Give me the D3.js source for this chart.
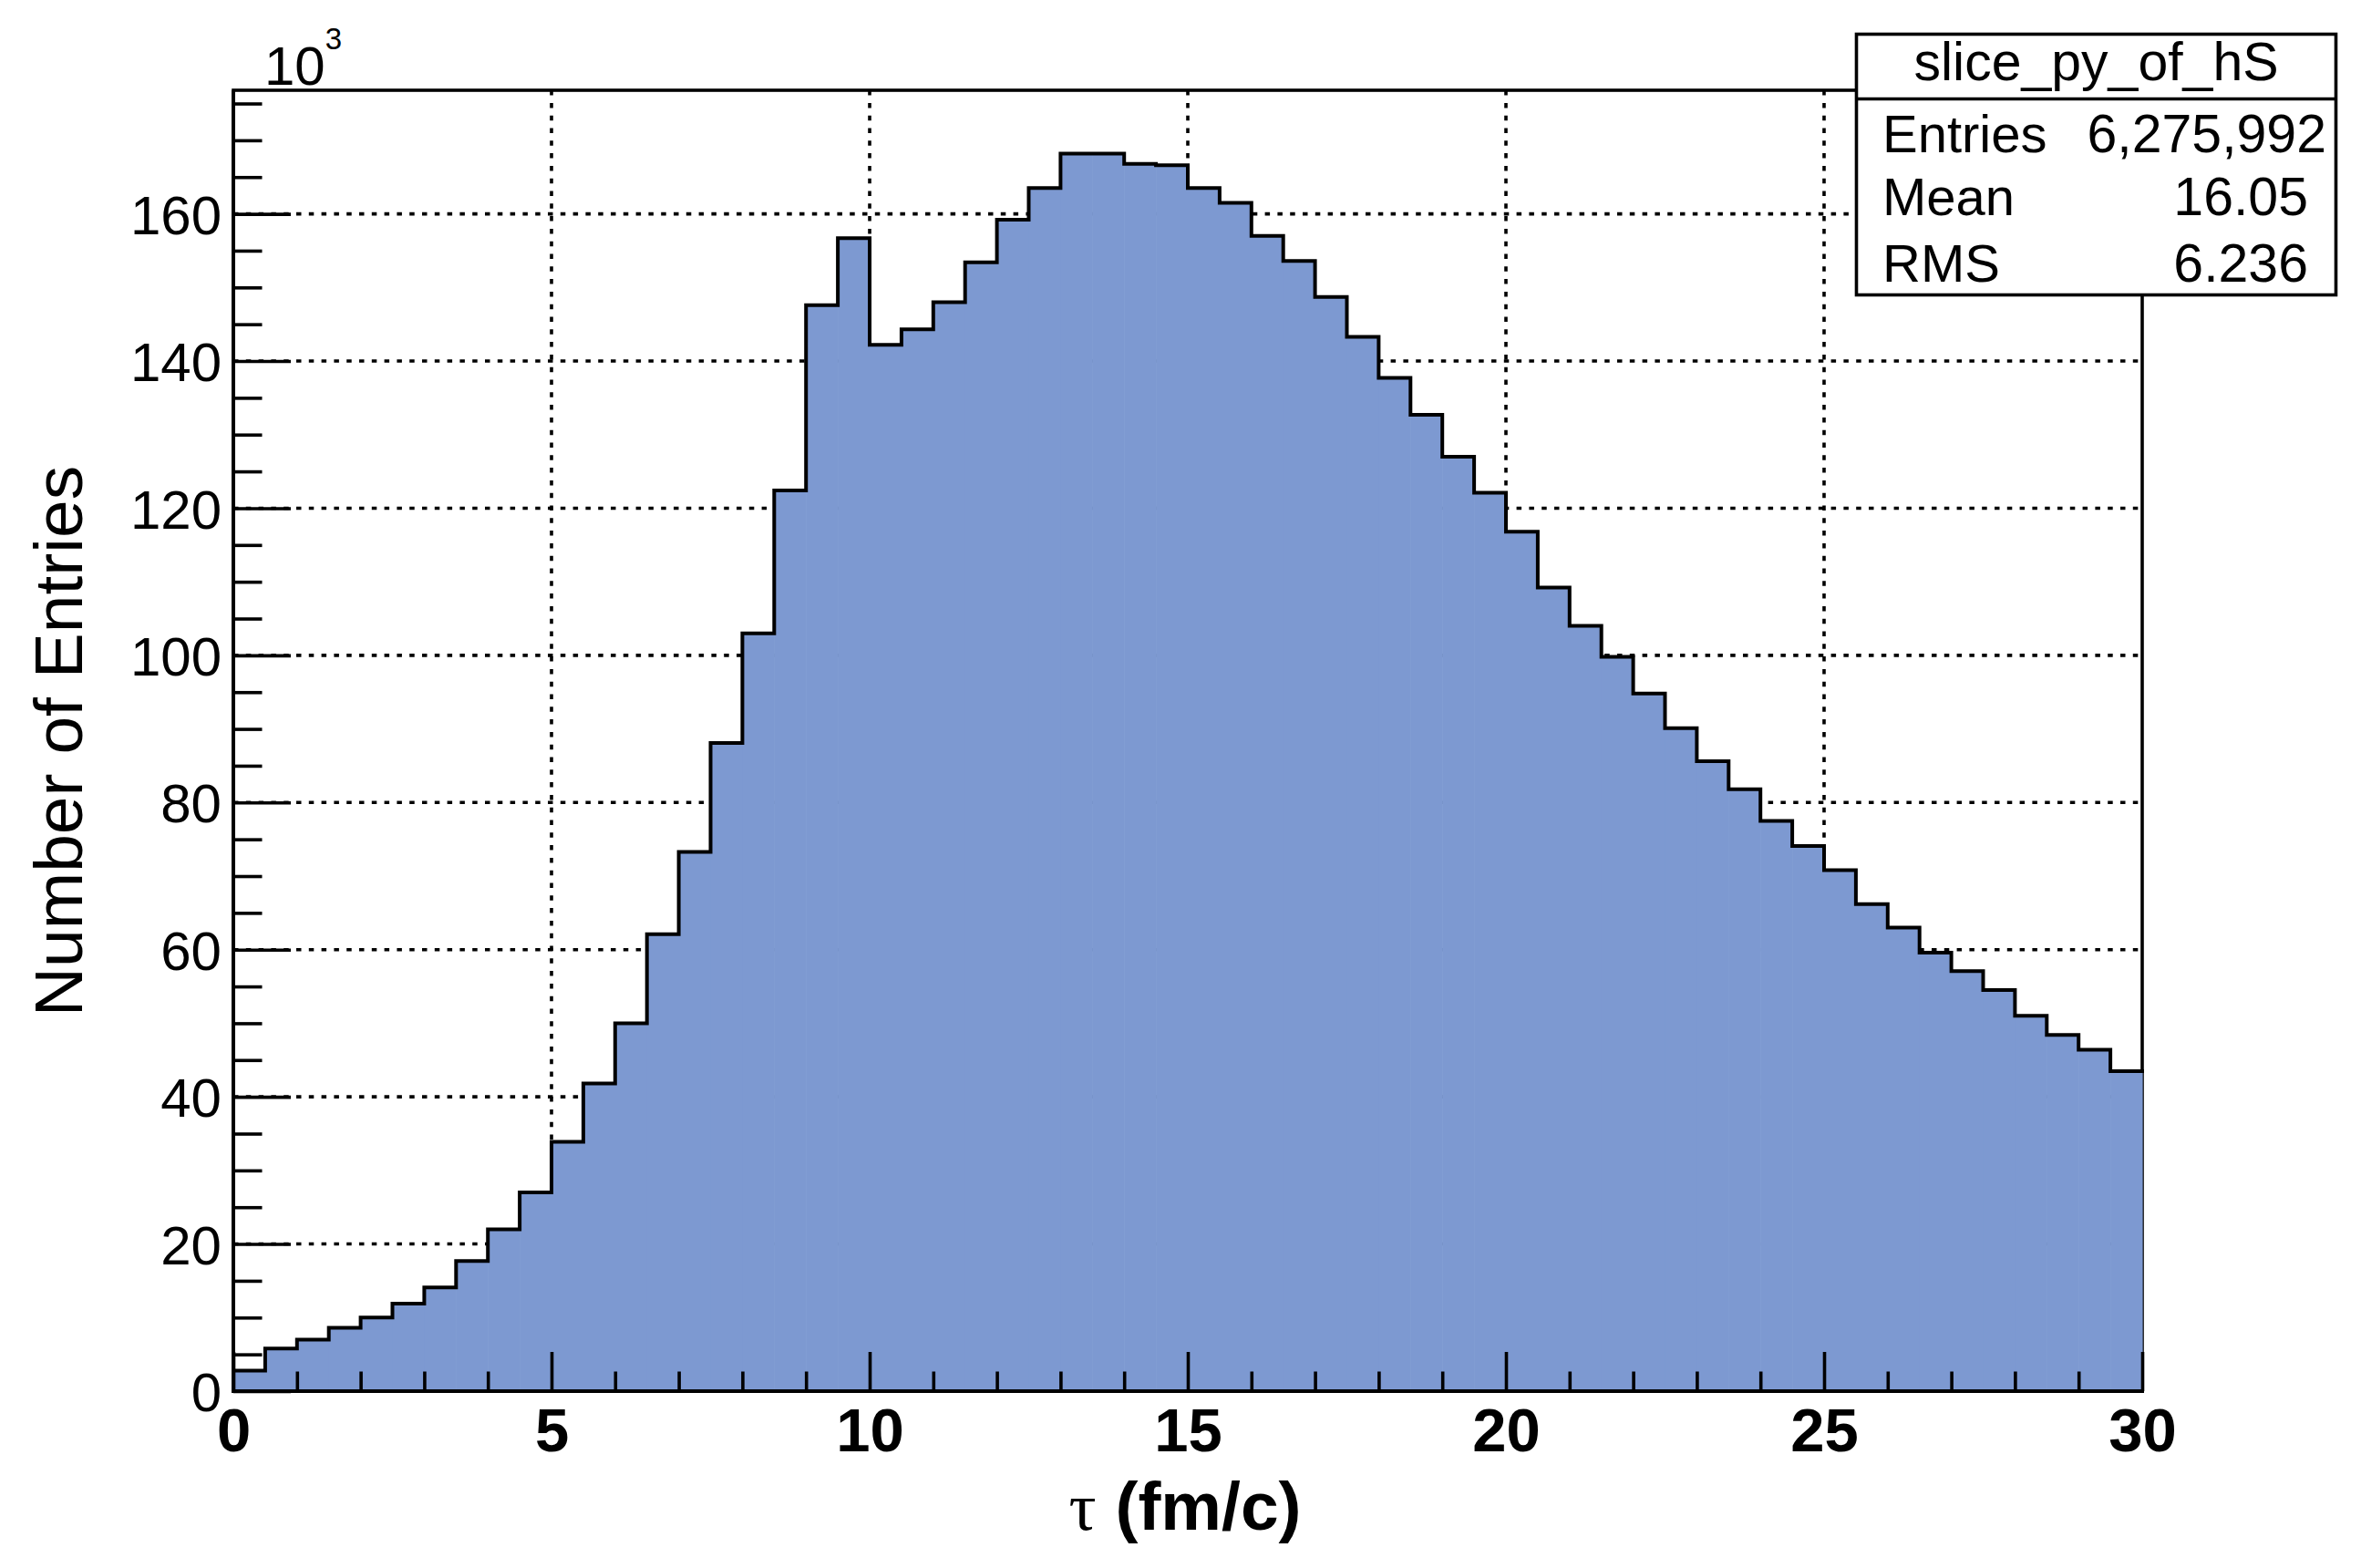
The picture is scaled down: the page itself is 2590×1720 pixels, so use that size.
<!DOCTYPE html>
<html>
<head>
<meta charset="utf-8">
<script src="https://cdn.jsdelivr.net/npm/d3@7"></script>
<style>
  html, body { margin: 0; padding: 0; background: #fff; }
  svg { display: block; }
  text { font-family: "Liberation Sans", Arial, Helvetica, sans-serif; fill: #000; }
</style>
</head>
<body>
<svg id="chart" width="2590" height="1720"></svg>
<script>
// ---- data (counts in units of 10^3 entries) ----
const binLow = [0,0.5,1,1.5,2,2.5,3,3.5,4,4.5,5,5.5,6,6.5,7,7.5,8,8.5,9,9.5,
  10,10.5,11,11.5,12,12.5,13,13.5,14,14.5,15,15.5,16,16.5,17,17.5,18,18.5,19,19.5,
  20,20.5,21,21.5,22,22.5,23,23.5,24,24.5,25,25.5,26,26.5,27,27.5,28,28.5,29,29.5];
const binWidth = 0.5;
const counts = [
  2.8, 5.8, 7.0, 8.6, 10.0, 11.9, 14.1, 17.7, 22.0, 27.0,
  33.9, 41.8, 50.0, 62.1, 73.3, 88.1, 103.0, 122.4, 147.6, 156.7,
  142.2, 144.3, 148.0, 153.4, 159.2, 163.5, 168.2, 168.2, 166.8, 166.6,
  163.5, 161.5, 157.0, 153.6, 148.7, 143.3, 137.7, 132.7, 127.0, 122.1,
  116.8, 109.2, 104.0, 99.8, 94.8, 90.1, 85.6, 81.8, 77.5, 74.1,
  70.8, 66.2, 63.0, 59.6, 57.1, 54.5, 51.0, 48.4, 46.4, 43.5
];
const xMajorTicks = [0, 5, 10, 15, 20, 25, 30];
const xMinorTicks = [1,2,3,4,6,7,8,9,11,12,13,14,16,17,18,19,21,22,23,24,26,27,28,29];
const yMajorTicks = [0, 20, 40, 60, 80, 100, 120, 140, 160];
const yMinorTicks = [5,10,15,25,30,35,45,50,55,65,70,75,85,90,95,105,110,115,125,130,135,145,150,155,165,170,175];
const xDomain = [0, 30];
const yDomain = [0, 176.8];
const xTitle = ["τ", " (fm/c)"];
const yTitle = "Number of Entries";
const yExponent = ["10", "3"];
const statsTitle = "slice_py_of_hS";
const statsRows = [["Entries", "6,275,992"], ["Mean", "16.05"], ["RMS", "6.236"]];

// ---- layout ----
const L = 256, R = 2350, T = 99, B = 1526;
const svg = d3.select("#chart");
svg.append("rect").attr("width", 2590).attr("height", 1720).attr("fill", "#fff");

const x = d3.scaleLinear().domain(xDomain).range([L, R]);
const y = d3.scaleLinear().domain(yDomain).range([B, T]);

// frame
svg.append("rect").attr("x", L).attr("y", T).attr("width", R - L).attr("height", B - T)
  .attr("fill", "none").attr("stroke", "#000").attr("stroke-width", 3.6);

// grid
const grid = svg.append("g").attr("stroke", "#000").attr("stroke-width", 3.6)
  .attr("stroke-dasharray", "5.5 8.3");
grid.selectAll("line.gx").data(xMajorTicks.filter(v => v > xDomain[0] && v < xDomain[1]))
  .join("line").attr("x1", d => x(d)).attr("x2", d => x(d)).attr("y1", B).attr("y2", T);
grid.selectAll("line.gy").data(yMajorTicks.filter(v => v > 0))
  .join("line").attr("y1", d => y(d)).attr("y2", d => y(d)).attr("x1", L).attr("x2", R);

// histogram
const bins = binLow.map((lo, i) => ({ lo: lo, hi: lo + binWidth, v: counts[i] }));
svg.append("g").selectAll("rect").data(bins).join("rect")
  .attr("x", d => x(d.lo)).attr("width", d => x(d.hi) - x(d.lo) + 0.6)
  .attr("y", d => y(d.v)).attr("height", d => y(0) - y(d.v))
  .attr("fill", "#7d99d1");
const stepPts = [];
bins.forEach(d => { stepPts.push([x(d.lo), y(d.v)]); stepPts.push([x(d.hi), y(d.v)]); });
svg.append("path").attr("d", d3.line()(stepPts))
  .attr("fill", "none").attr("stroke", "#000").attr("stroke-width", 4)
  .attr("stroke-linejoin", "miter").attr("stroke-linecap", "square");

// axes
function styleAxis(g) {
  g.select(".domain").remove();
  g.selectAll(".tick line").attr("stroke", "#000").attr("stroke-width", 3.6);
}
svg.append("g").attr("transform", `translate(${L},0)`)
  .call(d3.axisLeft(y).tickValues(yMinorTicks).tickSize(-31.5).tickFormat(""))
  .call(styleAxis);
const yAx = svg.append("g").attr("transform", `translate(${L},0)`)
  .call(d3.axisLeft(y).tickValues(yMajorTicks).tickSize(-63).tickPadding(13).tickFormat(d3.format("d")))
  .call(styleAxis);
yAx.selectAll(".tick text").attr("font-size", 60).attr("dy", "0.36em")
  .style("font-family", "'Liberation Sans', Arial, sans-serif");

svg.append("g").attr("transform", `translate(0,${B})`)
  .call(d3.axisBottom(x).tickValues(xMinorTicks).tickSize(-21.5).tickFormat(""))
  .call(styleAxis);
const xAx = svg.append("g").attr("transform", `translate(0,${B})`)
  .call(d3.axisBottom(x).tickValues(xMajorTicks).tickSize(-43).tickPadding(18).tickFormat(d3.format("d")))
  .call(styleAxis);
xAx.selectAll(".tick text").attr("font-size", 67).attr("font-weight", "bold")
  .style("font-family", "'Liberation Sans', Arial, sans-serif");

// axis lines
svg.append("line").attr("x1", L).attr("x2", L).attr("y1", T).attr("y2", B + 2)
  .attr("stroke", "#000").attr("stroke-width", 4);
svg.append("line").attr("x1", L - 2).attr("x2", R + 2).attr("y1", B).attr("y2", B)
  .attr("stroke", "#000").attr("stroke-width", 4);

// exponent label
const ex = svg.append("text").attr("x", 290).attr("y", 92.5).attr("font-size", 60);
ex.append("tspan").text(yExponent[0]);
ex.append("tspan").attr("font-size", 33).attr("dy", -39).text(yExponent[1]);

// axis titles
svg.append("text").attr("transform", "translate(90,813) rotate(-90)")
  .attr("text-anchor", "middle").attr("font-size", 75).text(yTitle);
const xt = svg.append("text").attr("x", 1300).attr("y", 1678)
  .attr("text-anchor", "middle").attr("font-size", 75);
xt.append("tspan").style("font-family", "'Liberation Serif', 'DejaVu Serif', serif").text(xTitle[0]);
xt.append("tspan").attr("font-weight", "bold").text(xTitle[1]);

// stats box
const bx0 = 2036.5, bx1 = 2562.5, by0 = 37.5, by1 = 323.5, bsep = 108.5;
const sb = svg.append("g");
sb.append("rect").attr("x", bx0).attr("y", by0).attr("width", bx1 - bx0).attr("height", by1 - by0)
  .attr("fill", "#fff").attr("stroke", "#000").attr("stroke-width", 3.6);
sb.append("line").attr("x1", bx0).attr("x2", bx1).attr("y1", bsep).attr("y2", bsep)
  .attr("stroke", "#000").attr("stroke-width", 3.6);
sb.append("text").attr("x", (bx0 + bx1) / 2).attr("y", 88).attr("text-anchor", "middle")
  .attr("font-size", 59).text(statsTitle);
const rowBase = [166.5, 236, 308.5];
const valRight = [2552, 2532, 2532];
statsRows.forEach((r, i) => {
  sb.append("text").attr("x", 2065).attr("y", rowBase[i]).attr("font-size", 58).text(r[0]);
  sb.append("text").attr("x", valRight[i]).attr("y", rowBase[i]).attr("text-anchor", "end")
    .attr("font-size", 59).text(r[1]);
});
</script>
</body>
</html>
